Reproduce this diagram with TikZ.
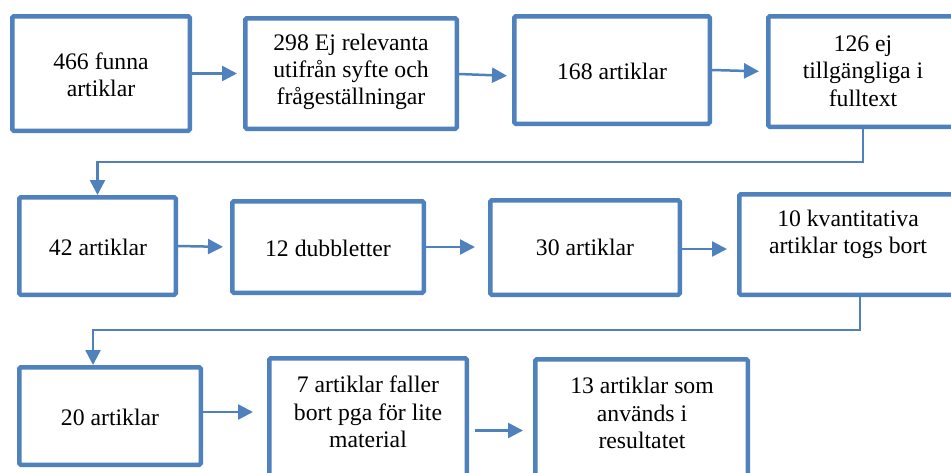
\documentclass[tikz,border=0pt]{standalone}
\usepackage{fontspec}
\setmainfont{Liberation Serif}
\usetikzlibrary{arrows.meta}
\definecolor{boxblue}{RGB}{79,129,189}
\begin{document}
\begin{tikzpicture}[x=1pt,y=-1pt,
  box/.style={draw=boxblue, line width=4.5pt, rounded corners=1.5pt, fill=white, inner sep=0pt},
  txt/.style={align=center, inner sep=0pt, font=\fontsize{23.7}{27.3}\selectfont},
  arr/.style={draw=boxblue, line width=2.5pt, -{Triangle[length=15pt,width=15pt]}}]
\useasboundingbox (0,0) rectangle (951,472);
\clip (0,0) rectangle (951,472);
% boxes
\node[box, minimum width=177.5pt, minimum height=114.5pt] (b1) at (101,73.5) {};
\node[box, minimum width=211.5pt, minimum height=110.5pt] (b2) at (351,73.5) {};
\node[box, minimum width=195.5pt, minimum height=107.5pt] (b3) at (612,70) {};
\node[box, minimum width=189.5pt, minimum height=110.5pt] (b4) at (863,71.5) {};
\node[box, minimum width=156.5pt, minimum height=97.5pt] (b5) at (97.5,246) {};
\node[box, minimum width=191.5pt, minimum height=91.5pt] (b6) at (328,247) {};
\node[box, minimum width=189.5pt, minimum height=94.5pt] (b7) at (585,247.5) {};
\node[box, minimum width=217.5pt, minimum height=100.5pt] (b8) at (848,244.5) {};
\node[box, minimum width=181.5pt, minimum height=97.5pt] (b9) at (110,416) {};
\node[box, minimum width=197.5pt, minimum height=129.5pt] (b10) at (368,423) {};
\node[box, minimum width=212.5pt, minimum height=128.5pt] (b11) at (641.5,423.5) {};
% texts
\node[txt] (t1) at (101,75) {466 funna\\artiklar};
\node[txt] (t2) at (351,72) {298 Ej relevanta\\utifrån syfte och\\frågeställningar};
\node[txt] (t3) at (612,71) {168 artiklar};
\node[txt] (t4) at (863,71) {126 ej\\tillgängliga i\\fulltext};
\node[txt] (t5) at (98,247) {42 artiklar};
\node[txt] (t6) at (328,248) {12 dubbletter};
\node[txt] (t7) at (585,247) {30 artiklar};
\node[txt] (t8) at (848,234.5) {10 kvantitativa\\artiklar togs bort};
\node[txt] (t9) at (110,417) {20 artiklar};
\node[txt] (t10) at (368,412) {7 artiklar faller\\bort pga för lite\\material};
\node[txt] (t11) at (642,413) {13 artiklar som\\används i\\resultatet};
% connectors
\draw[arr, shorten >=6pt] (b1.east) -- (b2.west);
\draw[arr, shorten >=5pt] ([yshift=-0.5pt]b2.east) -- ([yshift=-6pt]b3.west);
\draw[arr, shorten >=7pt] (b3.east) -- (b4.west);
\draw[arr] (b4.south) -- ++(0,33) -| (b5.north);
\draw[arr, shorten >=7pt] (b5.east) -- (b6.west);
\draw[arr, shorten >=13pt] (b6.east) -- (b6.east -| b7.west);
\draw[arr, shorten >=10pt] ([yshift=-1.5pt]b7.east) -- ([yshift=-1.5pt]b7.east -| b8.west);
\draw[arr] ([xshift=12pt]b8.south) -- ++(0,33) -| ([xshift=-17pt]b9.north);
\draw[arr, shorten >=14pt] ([yshift=4pt]b9.east) -- ([yshift=4pt]b9.east -| b10.west);
\draw[arr, shorten <=6pt, shorten >=10pt] ([yshift=-7.5pt]b10.east) -- ([yshift=-7.5pt]b10.east -| b11.west);
\end{tikzpicture}
\end{document}
